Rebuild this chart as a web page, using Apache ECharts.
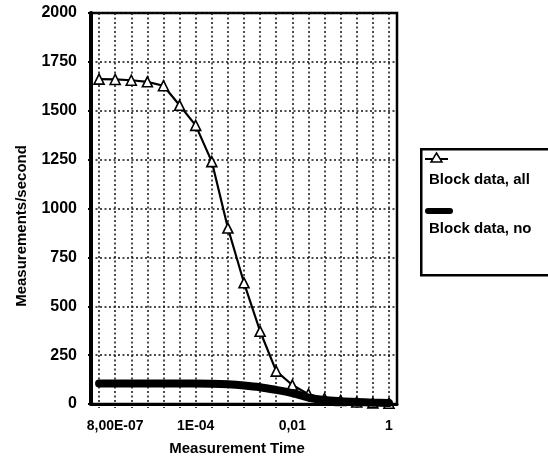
<!DOCTYPE html>
<html>
<head>
<meta charset="utf-8">
<script src="https://cdn.jsdelivr.net/npm/echarts@6.0.0/dist/echarts.min.js"></script>
<style>
  html, body { margin: 0; padding: 0; background: #fff; }
  #chart { width: 548px; height: 457px; }
</style>
</head>
<body>
<div id="chart"></div>
<script>
// Measurement times (categories along the x axis)
const timeCategories = ['3,00E-07', '8,00E-07', '2,10E-06', '5,50E-06', '1,45E-05', '3,80E-05',
  '1E-04', '2,2E-04', '4,6E-04', '0,001', '0,0022', '0,0046', '0,01',
  '0,022', '0,046', '0,1', '0,22', '0,46', '1'];
// Times that get a printed label
const shownTimeLabels = ['8,00E-07', '1E-04', '0,01', '1'];

// Measurements per second for each series
const blockDataAll = [1662, 1660, 1656, 1648, 1628, 1528, 1425, 1240, 900, 620, 372, 168, 97, 50, 28, 18, 10, 6, 4];
const blockDataNo = [105, 105, 105, 105, 105, 105, 105, 104, 101, 95, 86, 72, 56, 33, 20, 14, 10, 7, 5];

const seriesNames = ['Block data, all', 'Block data, no'];
const yMin = 0, yMax = 2000, yStep = 250;

const FONT = '"Liberation Sans", Arial, sans-serif';
const dotted = { color: '#111', width: 1.5, type: [2, 2.5] };

const chart = echarts.init(document.getElementById('chart'), null, { renderer: 'canvas' });

chart.setOption({
  animation: false,
  backgroundColor: '#fff',
  grid: {
    left: 91, right: 151, top: 13, bottom: 53,
    show: true, borderColor: '#000', borderWidth: 2.5, backgroundColor: 'transparent',
    containLabel: false,
    outerBoundsMode: 'none'
  },
  xAxis: {
    type: 'category',
    data: timeCategories,
    boundaryGap: true,
    name: 'Measurement Time',
    nameLocation: 'middle',
    nameGap: 37,
    nameTextStyle: { fontFamily: FONT, fontWeight: 'bold', fontSize: 15, color: '#000', padding: [0, 14, 0, 0] },
    axisLine: { show: true, lineStyle: { color: '#000', width: 3 } },
    axisTick: { show: true, interval: 0, alignWithLabel: true, length: 4, inside: false, lineStyle: { color: '#000', width: 1.5, type: [1.5, 1.5] } },
    axisLabel: {
      interval: (index, value) => shownTimeLabels.includes(value),
      margin: 15,
      fontFamily: FONT, fontWeight: 'bold', fontSize: 14, color: '#000',
      hideOverlap: false
    },
    splitLine: { show: true, interval: 0, alignWithLabel: true, lineStyle: dotted }
  },
  yAxis: {
    type: 'value',
    min: yMin, max: yMax, interval: yStep,
    name: 'Measurements/second',
    nameLocation: 'middle',
    nameGap: 62,
    nameTextStyle: { fontFamily: FONT, fontWeight: 'bold', fontSize: 15, color: '#000', padding: [0, 35, 0, 0] },
    axisLine: { show: true, lineStyle: { color: '#000', width: 4 } },
    axisTick: { show: true, length: 3, lineStyle: { color: '#000', width: 2 } },
    axisLabel: {
      margin: 14, fontFamily: FONT, fontWeight: 'bold', fontSize: 16, color: '#000',
      formatter: (v) => String(v)
    },
    splitLine: { show: true, lineStyle: dotted }
  },
  series: [
    {
      name: seriesNames[0],
      type: 'line',
      data: blockDataAll,
      symbol: 'triangle',
      symbolSize: 10,
      showAllSymbol: true,
      lineStyle: { color: '#000', width: 2.2 },
      itemStyle: { color: '#fff', borderColor: '#000', borderWidth: 1.6 },
      z: 3
    },
    {
      name: seriesNames[1],
      type: 'line',
      data: blockDataNo,
      symbol: 'none',
      smooth: 0.3,
      lineStyle: { color: '#000', width: 8, cap: 'round', join: 'round' },
      z: 4
    }
  ],
  graphic: [
    // legend box
    { type: 'rect', left: 420, top: 148, shape: { width: 140, height: 126 },
      style: { fill: '#fff', stroke: '#000', lineWidth: 2.5 }, z: 10 },
    // first entry: thin line with open triangle
    { type: 'line', shape: { x1: 425, y1: 159, x2: 448, y2: 159 },
      style: { stroke: '#000', lineWidth: 2 }, z: 11 },
    { type: 'polygon', shape: { points: [[436.5, 153], [442, 162], [431, 162]] },
      style: { fill: '#fff', stroke: '#000', lineWidth: 1.5 }, z: 12 },
    { type: 'text', x: 429, y: 180,
      style: { text: seriesNames[0], font: 'bold 15px ' + FONT, fill: '#000', verticalAlign: 'middle' }, z: 12 },
    // second entry: heavy line
    { type: 'line', shape: { x1: 428, y1: 211, x2: 450, y2: 211 },
      style: { stroke: '#000', lineWidth: 6, lineCap: 'round' }, z: 11 },
    { type: 'text', x: 429, y: 229,
      style: { text: seriesNames[1], font: 'bold 15px ' + FONT, fill: '#000', verticalAlign: 'middle' }, z: 12 }
  ]
});
</script>
</body>
</html>
